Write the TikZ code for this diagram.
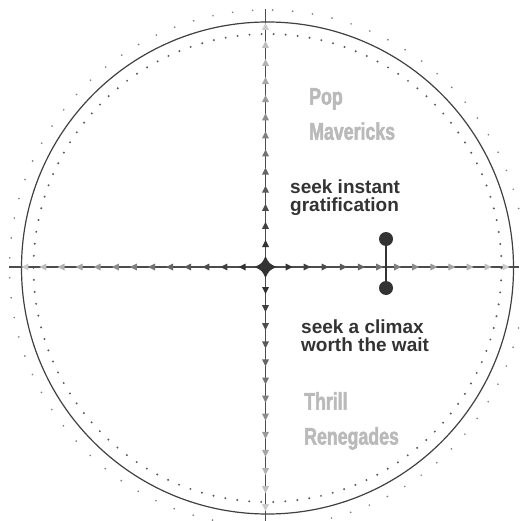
\documentclass[tikz,border=0pt]{standalone}
\usepackage{fontspec}
\setmainfont{Liberation Sans}
\newfontfamily\tagfont[FakeStretch=0.74,FakeBold=2,UprightFont={* Bold}]{Liberation Sans}
\tikzset{
  axis/.style={draw=black!70, line width=1.1pt},
  rim/.style={draw=black!75, line width=1.2pt},
  innerdots/.style={draw=black!65, line width=2.2pt, line cap=round, dash pattern=on 0pt off 12.05pt},
  outerdots/.style={draw=black!50, line width=1.9pt, line cap=round, dash pattern=on 0pt off 20.01pt},
  knob/.style={circle, fill=black!80, minimum size=14pt, inner sep=0pt},
  stem/.style={draw=black!80, line width=2pt},
  say/.style={font=\bfseries\fontsize{19}{18}\selectfont, text=black!80, align=left, inner sep=0pt, anchor=north west},
  tag/.style={font=\tagfont\fontsize{24}{35}\selectfont, text=black!27, align=left, inner sep=0pt, anchor=north west}
}
\begin{document}
\begin{tikzpicture}[x=1pt,y=-1pt]
  \useasboundingbox (0,0) rectangle (519,521);
  \coordinate (O) at (265.5,267);
  \coordinate (C) at (267.5,268);
  \coordinate (W) at (9,267);
  \coordinate (E) at (519,267);
  \coordinate (N) at (265.5,9);
  \coordinate (S) at (265.5,521);
  \draw[outerdots] (C) circle[radius=258pt];
  \draw[innerdots] (C) circle[radius=234pt];
  \draw[rim] (C) circle[radius=246pt];
  \draw[axis] (W) -- (E);
  \draw[axis] (N) -- (S);
  \begin{scope}[shift={(O)}]
    \fill[black!80] (27,0) -- ++(-7,-3.5) -- ++(0,7) -- cycle;
    \fill[black!75] (45.1,0) -- ++(-7,-3.5) -- ++(0,7) -- cycle;
    \fill[black!70] (63.2,0) -- ++(-7,-3.5) -- ++(0,7) -- cycle;
    \fill[black!65] (81.3,0) -- ++(-7,-3.5) -- ++(0,7) -- cycle;
    \fill[black!60] (99.4,0) -- ++(-7,-3.5) -- ++(0,7) -- cycle;
    \fill[black!55] (117.5,0) -- ++(-7,-3.5) -- ++(0,7) -- cycle;
    \fill[black!50] (135.6,0) -- ++(-7,-3.5) -- ++(0,7) -- cycle;
    \fill[black!45] (153.7,0) -- ++(-7,-3.5) -- ++(0,7) -- cycle;
    \fill[black!40] (171.8,0) -- ++(-7,-3.5) -- ++(0,7) -- cycle;
    \fill[black!35] (189.9,0) -- ++(-7,-3.5) -- ++(0,7) -- cycle;
    \fill[black!30] (208,0) -- ++(-7,-3.5) -- ++(0,7) -- cycle;
    \fill[black!25] (226.1,0) -- ++(-7,-3.5) -- ++(0,7) -- cycle;
    \fill[black!20] (244.2,0) -- ++(-7,-3.5) -- ++(0,7) -- cycle;
  \end{scope}
  \begin{scope}[shift={(O)},rotate=180]
    \fill[black!80] (27,0) -- ++(-7,-3.5) -- ++(0,7) -- cycle;
    \fill[black!75] (45.1,0) -- ++(-7,-3.5) -- ++(0,7) -- cycle;
    \fill[black!70] (63.2,0) -- ++(-7,-3.5) -- ++(0,7) -- cycle;
    \fill[black!65] (81.3,0) -- ++(-7,-3.5) -- ++(0,7) -- cycle;
    \fill[black!60] (99.4,0) -- ++(-7,-3.5) -- ++(0,7) -- cycle;
    \fill[black!55] (117.5,0) -- ++(-7,-3.5) -- ++(0,7) -- cycle;
    \fill[black!50] (135.6,0) -- ++(-7,-3.5) -- ++(0,7) -- cycle;
    \fill[black!45] (153.7,0) -- ++(-7,-3.5) -- ++(0,7) -- cycle;
    \fill[black!40] (171.8,0) -- ++(-7,-3.5) -- ++(0,7) -- cycle;
    \fill[black!35] (189.9,0) -- ++(-7,-3.5) -- ++(0,7) -- cycle;
    \fill[black!30] (208,0) -- ++(-7,-3.5) -- ++(0,7) -- cycle;
    \fill[black!25] (226.1,0) -- ++(-7,-3.5) -- ++(0,7) -- cycle;
    \fill[black!20] (244.2,0) -- ++(-7,-3.5) -- ++(0,7) -- cycle;
  \end{scope}
  \begin{scope}[shift={(O)},rotate=90]
    \fill[black!80] (27,0) -- ++(-7,-3.5) -- ++(0,7) -- cycle;
    \fill[black!75] (45.1,0) -- ++(-7,-3.5) -- ++(0,7) -- cycle;
    \fill[black!70] (63.2,0) -- ++(-7,-3.5) -- ++(0,7) -- cycle;
    \fill[black!65] (81.3,0) -- ++(-7,-3.5) -- ++(0,7) -- cycle;
    \fill[black!60] (99.4,0) -- ++(-7,-3.5) -- ++(0,7) -- cycle;
    \fill[black!55] (117.5,0) -- ++(-7,-3.5) -- ++(0,7) -- cycle;
    \fill[black!50] (135.6,0) -- ++(-7,-3.5) -- ++(0,7) -- cycle;
    \fill[black!45] (153.7,0) -- ++(-7,-3.5) -- ++(0,7) -- cycle;
    \fill[black!40] (171.8,0) -- ++(-7,-3.5) -- ++(0,7) -- cycle;
    \fill[black!35] (189.9,0) -- ++(-7,-3.5) -- ++(0,7) -- cycle;
    \fill[black!30] (208,0) -- ++(-7,-3.5) -- ++(0,7) -- cycle;
    \fill[black!25] (226.1,0) -- ++(-7,-3.5) -- ++(0,7) -- cycle;
    \fill[black!20] (244.2,0) -- ++(-7,-3.5) -- ++(0,7) -- cycle;
  \end{scope}
  \begin{scope}[shift={(O)},rotate=-90]
    \fill[black!80] (27,0) -- ++(-7,-3.5) -- ++(0,7) -- cycle;
    \fill[black!75] (45.1,0) -- ++(-7,-3.5) -- ++(0,7) -- cycle;
    \fill[black!70] (63.2,0) -- ++(-7,-3.5) -- ++(0,7) -- cycle;
    \fill[black!65] (81.3,0) -- ++(-7,-3.5) -- ++(0,7) -- cycle;
    \fill[black!60] (99.4,0) -- ++(-7,-3.5) -- ++(0,7) -- cycle;
    \fill[black!55] (117.5,0) -- ++(-7,-3.5) -- ++(0,7) -- cycle;
    \fill[black!50] (135.6,0) -- ++(-7,-3.5) -- ++(0,7) -- cycle;
    \fill[black!45] (153.7,0) -- ++(-7,-3.5) -- ++(0,7) -- cycle;
    \fill[black!40] (171.8,0) -- ++(-7,-3.5) -- ++(0,7) -- cycle;
    \fill[black!35] (189.9,0) -- ++(-7,-3.5) -- ++(0,7) -- cycle;
    \fill[black!30] (208,0) -- ++(-7,-3.5) -- ++(0,7) -- cycle;
    \fill[black!25] (226.1,0) -- ++(-7,-3.5) -- ++(0,7) -- cycle;
    \fill[black!20] (244.2,0) -- ++(-7,-3.5) -- ++(0,7) -- cycle;
  \end{scope}
  \begin{scope}[shift={(O)}]
    \fill[black!80] (0,-11) .. controls (3.5,-3.5) .. (11,0) .. controls (3.5,3.5) .. (0,11)
      .. controls (-3.5,3.5) .. (-11,0) .. controls (-3.5,-3.5) .. cycle;
  \end{scope}
  \node[knob] (hi) at (386,239) {};
  \node[knob] (lo) at (386,288) {};
  \draw[stem] (hi) -- (lo);
  \node[tag] (pop) at (309,88) {Pop\\Mavericks};
  \node[say] (instant) at (290,180) {seek instant\\gratification};
  \node[say] (climax) at (301,320) {seek a climax\\worth the wait};
  \node[tag] (thrill) at (304,392) {Thrill\\Renegades};
\end{tikzpicture}
\end{document}
